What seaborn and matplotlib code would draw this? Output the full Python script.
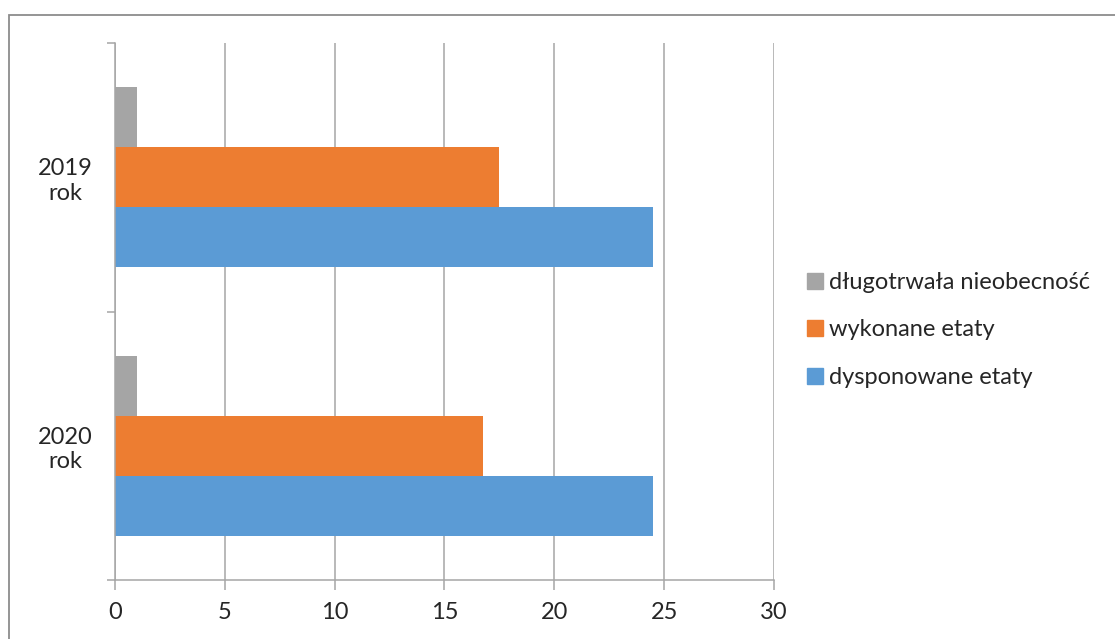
import pandas as pd
import seaborn as sns
import matplotlib.pyplot as plt
from matplotlib.patches import Rectangle
from matplotlib.lines import Line2D

# data
years = ['2019\nrok', '2020\nrok']
series = ['długotrwała nieobecność', 'wykonane etaty', 'dysponowane etaty']
absence = [1.0, 1.0]
done = [17.5, 16.75]
available = [24.5, 24.5]
colors = ['#A5A5A5', '#ED7D31', '#5B9BD5']

df = pd.DataFrame({
    'rok': years * 3,
    'seria': [series[0]] * 2 + [series[1]] * 2 + [series[2]] * 2,
    'wartosc': absence + done + available,
})

sns.set_theme(style='white')
plt.rcParams['font.family'] = ['Lato', 'DejaVu Sans']

fig = plt.figure(figsize=(11.15, 6.39), dpi=100)
ax = fig.add_axes([115 / 1115, 1 - 580 / 639, 659 / 1115, 537 / 639])

sns.barplot(data=df, x='wartosc', y='rok', hue='seria', order=years,
            hue_order=series, palette=colors, orient='h', width=0.67,
            saturation=1, ax=ax, legend=False, edgecolor='none')

# outer chart frame (cut at the image edges)
fig.add_artist(Rectangle((9 / 1115, -0.1), 1.2, (1 - 15 / 639) + 0.1,
                         transform=fig.transFigure, fill=False,
                         edgecolor='#8C8C8C', linewidth=1.3))

ax.set_xlim(0, 30)
ax.set_ylim(1.5, -0.5)
ax.set_xticks(range(0, 31, 5))
ax.set_yticks([0, 1])
ax.set_yticks([-0.5, 0.5, 1.5], minor=True)
ax.set_xlabel('')
ax.set_ylabel('')
ax.xaxis.grid(True, color='#A6A6A6', linewidth=1.1)
ax.set_axisbelow(True)
for s in ['top', 'right']:
    ax.spines[s].set_visible(False)
for s in ['left', 'bottom']:
    ax.spines[s].set_color('#A6A6A6')
    ax.spines[s].set_linewidth(1.1)

ax.tick_params(axis='x', which='major', bottom=True, length=7, width=1.1,
               color='#A6A6A6', labelsize=17, labelcolor='#262626', pad=9)
ax.tick_params(axis='y', which='major', left=False, length=0, labelsize=17,
               labelcolor='#262626', pad=16)
ax.tick_params(axis='y', which='minor', left=True, length=6, width=1.1,
               color='#A6A6A6')
for lbl in ax.get_yticklabels():
    lbl.set_multialignment('center')

handles = [Line2D([], [], marker='s', linestyle='none', markersize=11,
                  markerfacecolor=c, markeredgecolor=c) for c in colors]
fig.legend(handles, series, loc='center left', bbox_to_anchor=(782 / 1115, 1 - 330 / 639),
           frameon=False, fontsize=17, labelcolor='#262626', handletextpad=0.1,
           labelspacing=1.12, handlelength=1.0)

plt.savefig('out.png', dpi=100)
